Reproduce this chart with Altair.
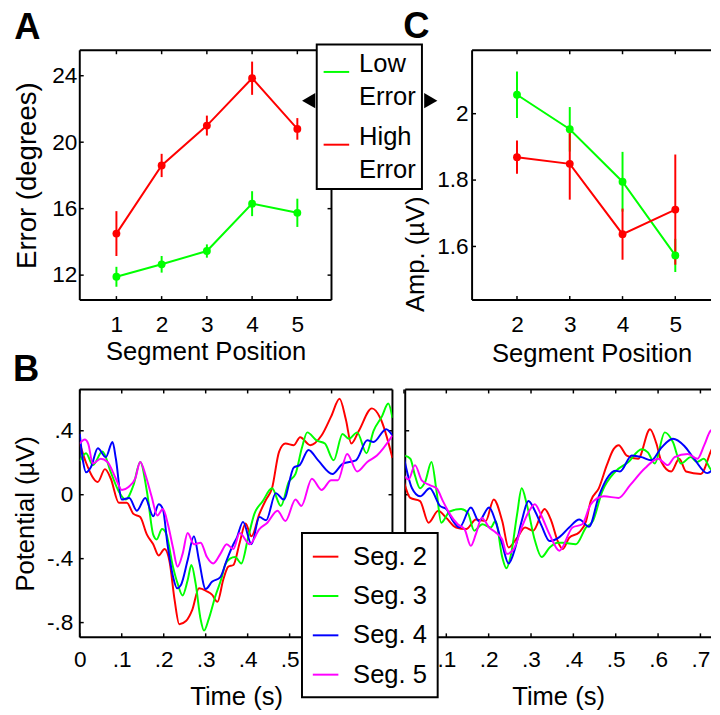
import altair as alt
import pandas as pd

FONT = "Liberation Sans"
GREEN, RED, BLUE, MAGENTA = "#00ff00", "#ff0000", "#0000ff", "#ff00ff"

# ---------------- Panel A : behavioural error ----------------
seg_a = [1, 2, 3, 4, 5]
low_a = [11.9, 12.65, 13.45, 16.3, 15.75]
low_a_se = [0.6, 0.5, 0.4, 0.75, 0.85]
high_a = [14.5, 18.6, 21.0, 23.85, 20.8]
high_a_se = [1.35, 0.7, 0.6, 1.0, 0.65]

# ---------------- Panel C : ERP amplitude ----------------
seg_c = [2, 3, 4, 5]
low_c = [2.057, 1.953, 1.795, 1.573]
low_c_se = [0.07, 0.067, 0.09, 0.05]
high_c = [1.869, 1.849, 1.637, 1.711]
high_c_se = [0.05, 0.108, 0.077, 0.166]

groups = ["Low\nError", "High\nError"]
seg_names = ["Seg. 2", "Seg. 3", "Seg. 4", "Seg. 5"]

# legend pointer triangles (panel A data units)
tri_x = [5.25, 7.95]
tri_y = [22.5, 22.5]
tri_shape = ["triangle-left", "triangle-right"]

# ---------------- Panel B left : ERP waveforms ----------------
L2_t = [0, .015, .043, .06, .074, .093, .112, .128, .144, .16, .175, .188, .202, .214, .226, .237, .253, .268, .284, .303, .315, .328, .342, .354, .366, .381, .395, .409, .428, .444, .458, .475, .49, .51, .525, .549, .576, .599, .619, .634, .647, .665, .696, .716, .745]
L2_v = [.32, .2, .08, .16, .1, -.05, -.05, -.12, -.14, -.25, -.31, -.38, -.34, -.42, -.66, -.81, -.79, -.72, -.585, -.605, -.625, -.67, -.53, -.45, -.44, -.3, -.18, -.26, -.12, -.03, .04, .27, .32, .31, .36, .31, .37, .49, .6, .47, .32, .4, .54, .48, .23]
L3_t = [0, .015, .031, .054, .074, .093, .109, .128, .144, .16, .175, .183, .196, .206, .222, .233, .245, .257, .266, .276, .288, .296, .307, .323, .338, .346, .358, .37, .385, .401, .416, .436, .458, .479, .498, .514, .529, .542, .564, .584, .605, .626, .641, .661, .683, .7, .72, .735, .745]
L3_v = [.21, .26, .185, .27, .14, .02, -.03, .06, .205, .02, -.25, -.28, -.215, -.245, -.45, -.555, -.63, -.535, -.44, -.555, -.78, -.85, -.78, -.635, -.52, -.44, -.4, -.39, -.43, -.27, -.12, -.04, .04, -.07, .08, .13, .29, .39, .34, .32, .215, .38, .35, .39, .26, .4, .49, .57, .48]
L4_t = [0, .008, .015, .027, .043, .062, .078, .086, .1, .118, .136, .156, .175, .188, .198, .209, .222, .232, .241, .257, .272, .284, .3, .315, .335, .35, .366, .374, .389, .409, .428, .444, .467, .486, .51, .524, .545, .568, .602, .627, .658, .685, .7, .73, .745]
L4_v = [.38, .205, .14, .175, .29, .235, .33, .225, -.03, -.02, -.1, -.02, -.135, -.06, -.09, -.31, -.51, -.585, -.565, -.41, -.26, -.41, -.59, -.545, -.515, -.41, -.31, -.27, -.17, -.31, -.14, -.16, .01, -.03, .17, .185, .28, .215, .13, .195, .215, .34, .33, .41, .37]
L5_t = [0, .012, .02, .031, .05, .066, .086, .1, .117, .132, .144, .157, .171, .185, .198, .21, .222, .233, .245, .257, .272, .288, .303, .318, .335, .35, .366, .381, .405, .428, .447, .471, .49, .514, .528, .553, .576, .599, .615, .637, .661, .685, .708, .745]
L5_v = [.32, .345, .32, .195, .225, .205, .1, .03, .05, .1, .205, .12, -.01, -.13, -.09, -.185, -.33, -.45, -.37, -.24, -.31, -.3, -.39, -.43, -.37, -.31, -.34, -.24, -.31, -.215, -.175, -.1, -.165, -.03, -.07, .1, .03, .09, .09, .255, .145, .205, .245, .37]

# ---------------- Panel B right ----------------
R2_t = [0, .015, .038, .058, .081, .1, .123, .147, .17, .193, .212, .232, .247, .267, .286, .305, .332, .348, .363, .375, .39, .414, .43, .441, .46, .479, .495, .507, .526, .553, .581, .596, .608, .631, .65, .666, .701, .728, .74]
R2_v = [.08, -.02, -.04, -.175, -.1, -.145, -.205, -.215, -.155, -.165, -.03, -.165, -.33, -.27, -.205, -.225, -.09, -.165, -.29, -.34, -.27, -.235, -.165, -.04, .04, .185, .285, .31, .245, .225, .41, .32, .205, .145, .225, .145, .13, .29, .33]
R3_t = [0, .015, .026, .038, .05, .065, .077, .088, .108, .135, .151, .166, .185, .205, .216, .232, .242, .253, .267, .278, .29, .309, .325, .344, .363, .375, .406, .43, .446, .468, .499, .53, .561, .576, .592, .616, .635, .654, .677, .692, .708, .724, .74]
R3_v = [.245, .225, .12, .04, .08, .205, .02, -.175, -.105, -.09, -.115, -.225, -.185, -.205, -.165, -.39, -.46, -.37, -.125, .04, -.06, -.285, -.39, -.33, -.3, -.3, -.31, -.205, -.165, .02, .145, .205, .285, .265, .195, .39, .33, .195, .235, .205, .225, .16, .13]
R4_t = [0, .019, .038, .061, .085, .1, .116, .131, .158, .177, .201, .216, .232, .247, .263, .278, .294, .309, .325, .344, .367, .39, .414, .437, .46, .479, .499, .51, .538, .561, .584, .608, .635, .662, .685, .716, .74]
R4_v = [.23, .04, -.01, .04, -.07, -.09, -.165, -.205, -.08, -.165, -.08, -.165, -.31, -.43, -.33, -.165, -.04, -.1, -.195, -.29, -.265, -.205, -.155, -.2, -.01, .1, .15, .145, .245, .235, .215, .295, .35, .305, .225, .135, .19]
R5_t = [0, .011, .026, .042, .061, .077, .092, .108, .127, .143, .158, .17, .184, .201, .216, .232, .243, .259, .278, .294, .309, .325, .344, .367, .398, .421, .441, .472, .507, .534, .569, .6, .623, .639, .67, .693, .709, .724, .74]
R5_v = [.12, .095, .185, .09, .06, .04, -.04, -.12, -.185, -.215, -.32, -.245, -.145, -.205, -.235, -.28, -.37, -.34, -.205, -.11, -.06, -.135, -.25, -.35, -.205, -.185, -.06, -.01, -.02, .06, .165, .225, .185, .235, .255, .225, .31, .4, .42]

time_ticks = [0, .1, .2, .3, .4, .5, .6, .7]
pot_ticks = [-.8, -.4, 0, .4]


def err_df(x, low, low_se, high, high_se):
    rows = []
    for g, vals, ses in ((groups[0], low, low_se), (groups[1], high, high_se)):
        for xi, v, s in zip(x, vals, ses):
            rows.append({"seg": xi, "val": v, "lo": v - s, "hi": v + s, "group": g})
    return pd.DataFrame(rows)


def wave_df(series):
    rows = []
    for name, ts, vs in series:
        for t, v in zip(ts, vs):
            rows.append({"t": t, "v": v, "seg": name})
    return pd.DataFrame(rows)


def axis_cfg(**kw):
    base = dict(domain=False, ticks=False, tickSize=0, grid=False,
                labelFlush=False, labelOverlap=False)
    base.update(kw)
    return alt.Axis(**base)


TICK = 4


def frame_layers(w, h, xs, ys, xax, yax, xticks, yticks, right=True):
    one = pd.DataFrame({"k": [0]})
    rule = dict(color="black", strokeWidth=2)
    L = [
        alt.Chart(one).mark_rule(**rule).encode(x=alt.value(0), x2=alt.value(w), y=alt.value(0)),
        alt.Chart(one).mark_rule(**rule).encode(x=alt.value(0), x2=alt.value(w), y=alt.value(h)),
        alt.Chart(one).mark_rule(**rule).encode(x=alt.value(0), y=alt.value(0), y2=alt.value(h)),
    ]
    if right:
        L.append(alt.Chart(one).mark_rule(**rule).encode(x=alt.value(w), y=alt.value(0), y2=alt.value(h)))
    xt = pd.DataFrame({"tx": xticks})
    yt = pd.DataFrame({"ty": yticks})
    tick = dict(color="black", strokeWidth=1.5)
    X = alt.X("tx:Q", scale=xs, axis=xax)
    Y = alt.Y("ty:Q", scale=ys, axis=yax)
    L.append(alt.Chart(xt).mark_rule(**tick).encode(x=X, y=alt.value(h), y2=alt.value(h - TICK)))
    L.append(alt.Chart(xt).mark_rule(**tick).encode(x=X, y=alt.value(0), y2=alt.value(TICK)))
    L.append(alt.Chart(yt).mark_rule(**tick).encode(y=Y, x=alt.value(0), x2=alt.value(TICK)))
    if right:
        L.append(alt.Chart(yt).mark_rule(**tick).encode(y=Y, x=alt.value(w), x2=alt.value(w - TICK)))
    return L


def panel_title(text, offset):
    return alt.TitleParams(text=text, anchor="start", frame="bounds", fontSize=37,
                           fontWeight="bold", font=FONT, color="black", offset=offset)


def err_panel(df, w, h, xdom, ydom, xticks, yticks, xax, yax, legend, title, extra=None):
    xs = alt.Scale(domain=xdom, nice=False, zero=False)
    ys = alt.Scale(domain=ydom, nice=False, zero=False)
    cs = alt.Scale(domain=groups, range=[GREEN, RED])
    base = alt.Chart(df)
    X = alt.X("seg:Q", scale=xs, axis=xax)
    Y = alt.Y("val:Q", scale=ys, axis=yax)
    err = base.mark_rule(strokeWidth=2).encode(
        x=X, y=alt.Y("lo:Q", scale=ys, axis=yax), y2="hi:Q",
        stroke=alt.Stroke("group:N", scale=cs, legend=None))
    line = base.mark_line(strokeWidth=2).encode(
        x=X, y=Y, color=alt.Color("group:N", scale=cs, legend=legend))
    pts = base.mark_circle(size=64, opacity=1).encode(
        x=X, y=Y, fill=alt.Fill("group:N", scale=cs, legend=None))
    layers = frame_layers(w, h, xs, ys, xax, yax, xticks, yticks,
                          right=(extra is not None)) + [err, line, pts]
    if extra is not None:
        tri = alt.Chart(pd.DataFrame({"tx": tri_x, "ty": tri_y, "shape": tri_shape})).mark_point(
            filled=True, size=240, color="black", opacity=1).encode(
            x=alt.X("tx:Q", scale=xs, axis=xax), y=alt.Y("ty:Q", scale=ys, axis=yax),
            shape=alt.Shape("shape:N", scale=None))
        layers.append(tri)
    return alt.layer(*layers).properties(width=w, height=h, title=title)


def wave_panel(df, w, h, xdom, ydom, yax, legend, title=None, right=True):
    xs = alt.Scale(domain=xdom, nice=False, zero=False)
    ys = alt.Scale(domain=ydom, nice=False, zero=False)
    cs = alt.Scale(domain=seg_names, range=[RED, GREEN, BLUE, MAGENTA])
    xax = axis_cfg(values=time_ticks, title="Time (s)", labelPadding=12, titlePadding=12,
                   labelExpr="replace(format(datum.value, '.1~f'), '0.', '.')")
    lines = alt.Chart(df).mark_line(strokeWidth=2, interpolate="monotone", clip=True).encode(
        x=alt.X("t:Q", scale=xs, axis=xax),
        y=alt.Y("v:Q", scale=ys, axis=yax),
        color=alt.Color("seg:N", scale=cs, legend=legend),
        detail="seg:N")
    layers = frame_layers(w, h, xs, ys, xax, yax, time_ticks, pot_ticks, right=right) + [lines]
    ch = alt.layer(*layers).properties(width=w, height=h)
    if title is not None:
        ch = ch.properties(title=title)
    return ch


# ---- build panel A ----
legend_ac = alt.Legend(orient="none", legendX=241, legendY=-6, title=" ",
                       titleFontSize=1, titlePadding=7,
                       symbolType="stroke", symbolSize=676, symbolStrokeWidth=2,
                       labelOffset=9, labelBaseline="alphabetic",
                       strokeColor="black", fillColor="white", padding=6, rowPadding=14,
                       zindex=1)
panelA = err_panel(
    err_df(seg_a, low_a, low_a_se, high_a, high_a_se), 256, 254,
    [0.19, 5.755], [10.5, 25.53], seg_a, [12, 16, 20, 24],
    axis_cfg(values=seg_a, title="Segment Position", labelPadding=14, titlePadding=2, format="d"),
    axis_cfg(values=[12, 16, 20, 24], title="Error (degrees)", titleFontSize=28,
             labelPadding=3, titlePadding=10),
    legend_ac, panel_title("A", -3), extra=True)

panelC = err_panel(
    err_df(seg_c, low_c, low_c_se, high_c, high_c_se), 243, 254,
    [1.149, 5.677], [1.4385, 2.191], seg_c, [1.6, 1.8, 2.0],
    axis_cfg(values=seg_c, title="Segment Position", labelPadding=14, titlePadding=5, format="d"),
    axis_cfg(values=[1.6, 1.8, 2.0], title="Amp. (\u00b5V)", labelPadding=4,
             labelExpr="format(datum.value, '.1~f')", titleX=-44, titleY=207),
    None, panel_title("C", 4))

# ---- build panel B ----
dfL = wave_df([(seg_names[0], L2_t, L2_v), (seg_names[1], L3_t, L3_v),
               (seg_names[2], L4_t, L4_v), (seg_names[3], L5_t, L5_v)])
dfR = wave_df([(seg_names[0], R2_t, R2_v), (seg_names[1], R3_t, R3_v),
               (seg_names[2], R4_t, R4_v), (seg_names[3], R5_t, R5_v)])

pot_label = "replace(replace(format(datum.value, '.1~f'), '0.', '.'), '\u2212', '-')"
yaxBL = axis_cfg(values=pot_ticks, title="Potential (\u00b5V)", labelPadding=7, titlePadding=8,
                 labelExpr=pot_label)
yaxBR = axis_cfg(values=pot_ticks, title=None, labels=False)

legend_b = alt.Legend(orient="none", legendX=-105, legendY=146, title=None,
                      symbolType="stroke", symbolSize=676, symbolStrokeWidth=2,
                      labelOffset=14, strokeColor="black", fillColor="white",
                      padding=10, rowPadding=13, zindex=1)

panelBL = wave_panel(dfL, 318, 252, [0, 0.745], [-0.892, 0.658], yaxBL, None,
                     title=panel_title("B", 0), right=True)
panelBR = wave_panel(dfR, 311, 252, [0.003, 0.725], [-0.892, 0.658], yaxBR, legend_b,
                     right=False)

top = alt.hconcat(panelA, panelC, spacing=143, bounds="flush").resolve_scale(
    color="independent", x="independent", y="independent").resolve_legend(color="independent")
bottom = alt.hconcat(panelBL, panelBR, spacing=13, bounds="flush").resolve_scale(
    color="independent", x="independent", y="independent").resolve_legend(color="independent")

chart = alt.vconcat(top, bottom, spacing=-16).resolve_scale(
    color="independent").resolve_legend(color="independent").properties(
    padding={"left": 5, "top": -6, "right": 0, "bottom": 0})

chart = (chart
         .configure(style={"guide-label": {"lineHeight": 34, "lineBreak": "\n"}})
         .configure_view(stroke=None)
         .configure_axis(labelFont=FONT, titleFont=FONT, labelFontSize=23, titleFontSize=26,
                         titleFontWeight="normal", labelColor="black", titleColor="black")
         .configure_legend(labelFont=FONT, labelFontSize=26, labelColor="black", strokeWidth=2,
                           labelLimit=200))

chart.save("out.html", embed_options={"renderer": "svg", "actions": False})
